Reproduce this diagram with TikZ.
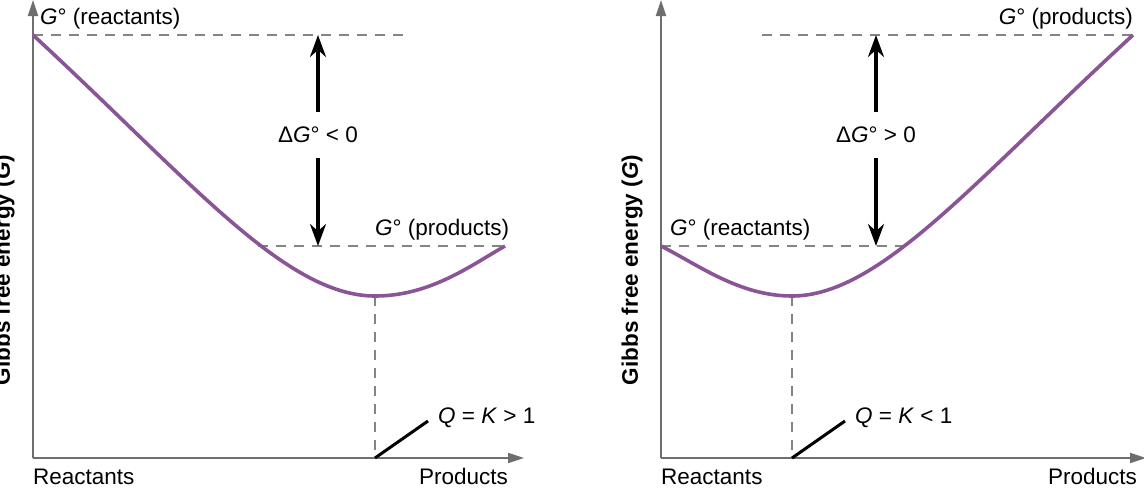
\documentclass[tikz,border=0pt]{standalone}
\usepackage{fontspec}
\setmainfont{Liberation Sans}
\usetikzlibrary{arrows.meta}
\definecolor{curve}{HTML}{8A5596}
\definecolor{axis}{HTML}{6E6E6E}
\begin{document}
\begin{tikzpicture}[x=1pt,y=-1pt,
  axisline/.style={draw=axis,line width=1.8,-{Triangle[length=16,width=10]}},
  guide/.style={draw=axis!85,line width=1.4,dash pattern=on 10 off 8},
  curveline/.style={draw=curve,line width=3.6},
  bigarrow/.style={draw=black,line width=3.4,-{Stealth[length=22,width=16]}},
  lbl/.style={font=\fontsize{22.5}{26}\selectfont,inner sep=0},
  ylbl/.style={font=\fontsize{22.5}{26}\selectfont\bfseries,rotate=90,inner sep=0}]
\useasboundingbox (0,0) rectangle (1144,496);
% ---------- left panel ----------
\coordinate (lo) at (33,458);
\coordinate (lytop) at (33,0);
\coordinate (lxend) at (524,458);
\draw[axisline] (lo) -- (lytop);
\draw[axisline] (lo) -- (lxend);
\coordinate (lr0) at (33,35);
\coordinate (lr1) at (405,35);
\coordinate (lp0) at (258,246);
\coordinate (lp1) at (505,246);
\draw[guide] (lr0) -- (lr1);
\draw[guide] (lp0) -- (lp1);
\coordinate (lmin) at (375,296);
\coordinate (lminb) at (375,458);
\draw[guide] (lmin) -- (lminb);
\draw[curveline] (lr0) .. controls (190,180) and (285,296) .. (lmin) .. controls (430,296) and (470,266) .. (lp1);
\node[lbl] (ldg) at (318,135) {Δ\textit{G}° < 0};
\coordinate (lat) at (318,35);
\coordinate (lab) at (318,246);
\draw[bigarrow] (318,112) -- (lat);
\draw[bigarrow] (318,158) -- (lab);
\node[lbl,anchor=base west] (lgr) at (40,24) {\textit{G}° (reactants)};
\node[lbl,anchor=base west] (lgp) at (375,235) {\textit{G}° (products)};
\coordinate (lq) at (428,421);
\draw[line width=3] (lminb) -- (lq);
\node[lbl,anchor=west] (lqk) at (438,418) {\textit{Q} = \textit{K} > 1};
\node[lbl,anchor=base west] (lre) at (33,484) {Reactants};
\node[lbl,anchor=base east] (lpr) at (508,484) {Products};
\node[ylbl] (lyl) at (4,270) {Gibbs free energy (\textit{G})};
% ---------- right panel ----------
\coordinate (ro) at (661,458);
\coordinate (rytop) at (661,0);
\coordinate (rxend) at (1146,458);
\draw[axisline] (ro) -- (rytop);
\draw[axisline] (ro) -- (rxend);
\coordinate (rp0) at (762,35);
\coordinate (rp1) at (1133,35);
\coordinate (rr0) at (661,246);
\coordinate (rr1) at (910,246);
\draw[guide] (rp0) -- (rp1);
\draw[guide] (rr0) -- (rr1);
\coordinate (rmin) at (792,296);
\coordinate (rminb) at (792,458);
\draw[guide] (rmin) -- (rminb);
\draw[curveline] (rr0) .. controls (700,266) and (740,296) .. (rmin) .. controls (880,296) and (975,180) .. (rp1);
\node[lbl] (rdg) at (876,135) {Δ\textit{G}° > 0};
\coordinate (rat) at (876,35);
\coordinate (rab) at (876,246);
\draw[bigarrow] (876,112) -- (rat);
\draw[bigarrow] (876,158) -- (rab);
\node[lbl,anchor=base east] (rgp) at (1133,24) {\textit{G}° (products)};
\node[lbl,anchor=base west] (rgr) at (670,235) {\textit{G}° (reactants)};
\coordinate (rq) at (845,421);
\draw[line width=3] (rminb) -- (rq);
\node[lbl,anchor=west] (rqk) at (855,418) {\textit{Q} = \textit{K} < 1};
\node[lbl,anchor=base west] (rre) at (661,484) {Reactants};
\node[lbl,anchor=base east] (rpr) at (1137,484) {Products};
\node[ylbl] (ryl) at (632,270) {Gibbs free energy (\textit{G})};
\end{tikzpicture}
\end{document}
